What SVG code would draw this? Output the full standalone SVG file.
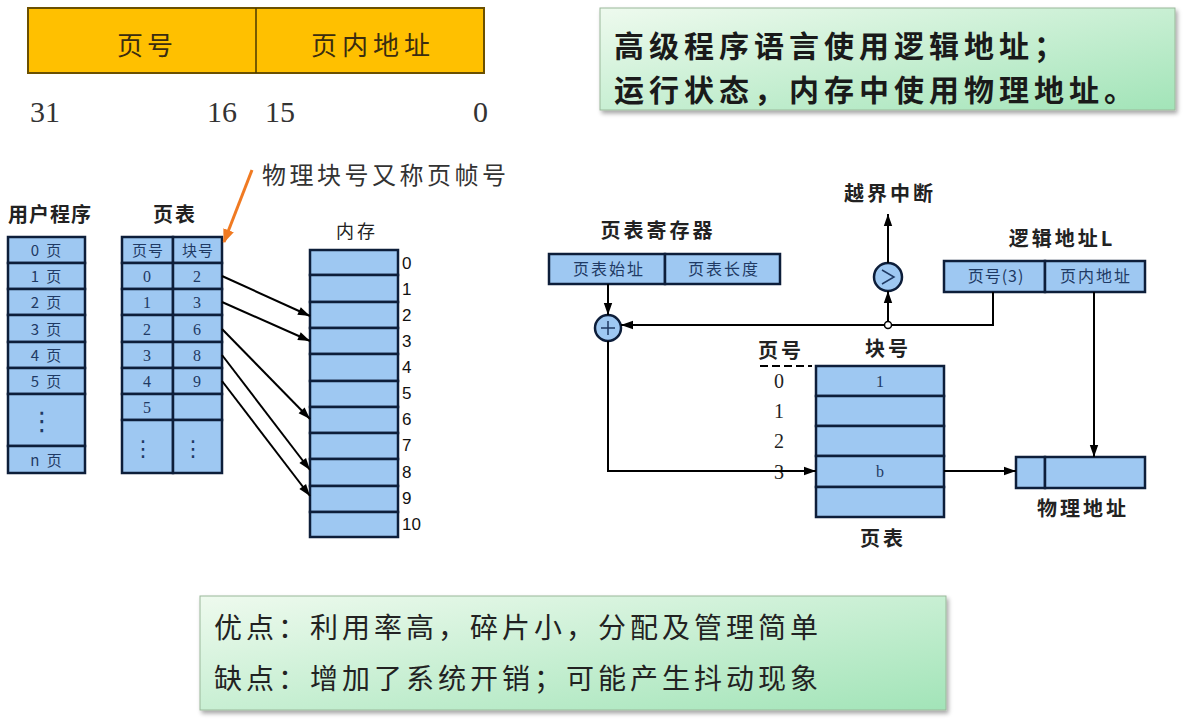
<svg xmlns="http://www.w3.org/2000/svg" width="1188" height="722" viewBox="0 0 1188 722">
<defs>
<linearGradient id="g" x1="0" y1="0" x2="1" y2="1">
<stop offset="0" stop-color="#eefaee"/>
<stop offset="1" stop-color="#a2e4b8"/>
</linearGradient>
<filter id="sh" x="-5%" y="-10%" width="110%" height="130%">
<feDropShadow dx="2" dy="3" stdDeviation="2" flood-color="#000" flood-opacity="0.35"/>
</filter>
<marker id="ab" viewBox="0 0 10 10" refX="10" refY="5" markerWidth="18" markerHeight="12" orient="auto" markerUnits="userSpaceOnUse">
<path d="M0,1.5 L10,5 L0,8.5 z" fill="#000"/>
</marker>
<marker id="ao" viewBox="0 0 10 10" refX="9" refY="5" markerWidth="14" markerHeight="14" orient="auto" markerUnits="userSpaceOnUse">
<path d="M0,1 L10,5 L0,9 z" fill="#f07a22"/>
</marker>
</defs>
<style>
.cell{fill:#9ec8f2;stroke:#0d1e3a;stroke-width:2.5}
.ct{font-family:"Noto Sans CJK SC",sans-serif;font-size:15px;fill:#1f3a64;text-anchor:middle;letter-spacing:2px}
.cs{font-family:"Liberation Serif",serif;font-size:16px;fill:#1f3a64;text-anchor:middle}
.dt{font-family:"DejaVu Sans",sans-serif;font-size:22px;fill:#1f3a64;text-anchor:middle}
.hd{font-family:"Noto Sans CJK SC",sans-serif;font-size:20px;font-weight:bold;fill:#222;text-anchor:middle;letter-spacing:3px}
.num{font-family:"Liberation Sans",sans-serif;font-size:17px;fill:#111}
.ser{font-family:"Liberation Serif",serif;font-size:20px;fill:#222;text-anchor:middle}
.ln{fill:none;stroke:#000;stroke-width:2}
.gb{fill:url(#g);stroke:#9ab89a;stroke-width:1;filter:url(#sh)}
</style>
<rect width="1188" height="722" fill="#fff"/>

<g id="format">
<rect x="28" y="8" width="456" height="65" fill="#ffc000" stroke="#6b5000" stroke-width="2"/>
<line x1="256" y1="8" x2="256" y2="73" stroke="#4a3a00" stroke-width="1.5"/>
<text x="147" y="55" font-family="Noto Sans CJK SC,sans-serif" font-size="26" letter-spacing="4" fill="#3a2c10" text-anchor="middle">页号</text>
<text x="373" y="55" font-family="Noto Sans CJK SC,sans-serif" font-size="26" letter-spacing="5" fill="#3a2c10" text-anchor="middle">页内地址</text>
<text x="30" y="122" font-family="Liberation Serif,serif" font-size="30" fill="#333">31</text>
<text x="237" y="122" font-family="Liberation Serif,serif" font-size="30" fill="#333" text-anchor="end">16</text>
<text x="265" y="122" font-family="Liberation Serif,serif" font-size="30" fill="#333">15</text>
<text x="488" y="122" font-family="Liberation Serif,serif" font-size="30" fill="#333" text-anchor="end">0</text>
</g>

<g id="note-top">
<rect x="600" y="8" width="575" height="102" class="gb"/>
<text x="614" y="57" font-family="Noto Sans CJK SC,sans-serif" font-size="30" letter-spacing="5" font-weight="bold" fill="#1a1a1a">高级程序语言使用逻辑地址；</text>
<text x="614" y="101" font-family="Noto Sans CJK SC,sans-serif" font-size="30" letter-spacing="5" font-weight="bold" fill="#1a1a1a">运行状态，内存中使用物理地址。</text>
</g>

<g id="user-program">
<text x="50" y="222" class="hd" style="letter-spacing:1px">用户程序</text>
<rect x="8" y="237" width="77" height="26" class="cell"/>
<rect x="8" y="263" width="77" height="26" class="cell"/>
<rect x="8" y="289" width="77" height="26" class="cell"/>
<rect x="8" y="315" width="77" height="27" class="cell"/>
<rect x="8" y="342" width="77" height="26" class="cell"/>
<rect x="8" y="368" width="77" height="26" class="cell"/>
<rect x="8" y="394" width="77" height="52" class="cell"/>
<rect x="8" y="446" width="77" height="27" class="cell"/>
<text x="47" y="256" class="ct">0 页</text>
<text x="47" y="282" class="ct">1 页</text>
<text x="47" y="308" class="ct">2 页</text>
<text x="47" y="335" class="ct">3 页</text>
<text x="47" y="361" class="ct">4 页</text>
<text x="47" y="387" class="ct">5 页</text>
<text x="42" y="430" class="dt" style="font-size:26px">⋮</text>
<text x="47" y="466" class="ct">n 页</text>
</g>

<g id="page-table-left">
<text x="175" y="222" class="hd" style="letter-spacing:2px">页表</text>
<rect x="122" y="237" width="51" height="26" class="cell"/>
<rect x="173" y="237" width="49" height="26" class="cell"/>
<rect x="122" y="263" width="51" height="26" class="cell"/>
<rect x="173" y="263" width="49" height="26" class="cell"/>
<rect x="122" y="289" width="51" height="26" class="cell"/>
<rect x="173" y="289" width="49" height="26" class="cell"/>
<rect x="122" y="315" width="51" height="27" class="cell"/>
<rect x="173" y="315" width="49" height="27" class="cell"/>
<rect x="122" y="342" width="51" height="26" class="cell"/>
<rect x="173" y="342" width="49" height="26" class="cell"/>
<rect x="122" y="368" width="51" height="26" class="cell"/>
<rect x="173" y="368" width="49" height="26" class="cell"/>
<rect x="122" y="394" width="51" height="26" class="cell"/>
<rect x="173" y="394" width="49" height="26" class="cell"/>
<rect x="122" y="420" width="51" height="53" class="cell"/>
<rect x="173" y="420" width="49" height="53" class="cell"/>
<text x="148" y="256" class="ct" style="letter-spacing:1px">页号</text>
<text x="198" y="256" class="ct" style="letter-spacing:1px">块号</text>
<text x="147" y="282" class="cs">0</text><text x="197" y="282" class="cs">2</text>
<text x="147" y="308" class="cs">1</text><text x="197" y="308" class="cs">3</text>
<text x="147" y="335" class="cs">2</text><text x="197" y="335" class="cs">6</text>
<text x="147" y="361" class="cs">3</text><text x="197" y="361" class="cs">8</text>
<text x="147" y="387" class="cs">4</text><text x="197" y="387" class="cs">9</text>
<text x="147" y="413" class="cs">5</text>
<text x="143" y="456" class="dt">⋮</text>
<text x="193" y="456" class="dt">⋮</text>
</g>

<g id="frame-note">
<text x="262" y="184" font-family="Noto Sans CJK SC,sans-serif" font-size="24" letter-spacing="3.5" fill="#333">物理块号又称页帧号</text>
</g>

<g id="memory">
<text x="357" y="238" class="hd" style="font-weight:normal;font-size:18px;letter-spacing:3px">内存</text>
<rect x="310" y="250" width="88" height="25" class="cell"/>
<rect x="310" y="275" width="88" height="27" class="cell"/>
<rect x="310" y="302" width="88" height="26" class="cell"/>
<rect x="310" y="328" width="88" height="26" class="cell"/>
<rect x="310" y="354" width="88" height="27" class="cell"/>
<rect x="310" y="381" width="88" height="26" class="cell"/>
<rect x="310" y="407" width="88" height="26" class="cell"/>
<rect x="310" y="433" width="88" height="26" class="cell"/>
<rect x="310" y="459" width="88" height="27" class="cell"/>
<rect x="310" y="486" width="88" height="26" class="cell"/>
<rect x="310" y="512" width="88" height="25" class="cell"/>
<text x="402" y="269" class="num">0</text>
<text x="402" y="295" class="num">1</text>
<text x="402" y="321" class="num">2</text>
<text x="402" y="347" class="num">3</text>
<text x="402" y="373" class="num">4</text>
<text x="402" y="399" class="num">5</text>
<text x="402" y="425" class="num">6</text>
<text x="402" y="451" class="num">7</text>
<text x="402" y="478" class="num">8</text>
<text x="402" y="504" class="num">9</text>
<text x="402" y="530" class="num">10</text>
</g>

<g id="page-register">
<text x="658" y="238" class="hd">页表寄存器</text>
<rect x="549" y="254" width="116" height="30" class="cell"/>
<rect x="665" y="254" width="115" height="30" class="cell"/>
<text x="609" y="275" class="ct" style="font-size:16px">页表始址</text>
<text x="724" y="275" class="ct" style="font-size:16px">页表长度</text>
</g>

<g id="adder">
<circle cx="608" cy="328" r="13" class="cell"/>
<path d="M601,328 H615 M608,321 V335" stroke="#1f3a64" stroke-width="1.5"/>
</g>

<g id="comparator">
<circle cx="888" cy="277" r="14" class="cell"/>
<path d="M882,270 L894,277 L882,284" fill="none" stroke="#1f3a64" stroke-width="1.5"/>
</g>

<g id="overflow">
<text x="890" y="201" class="hd">越界中断</text>
</g>

<g id="logical-address">
<text x="1062" y="246" class="hd">逻辑地址L</text>
<rect x="944" y="261" width="101" height="31" class="cell"/>
<rect x="1045" y="261" width="100" height="31" class="cell"/>
<text x="996" y="282" class="ct" style="font-size:16px;letter-spacing:1px">页号(3)</text>
<text x="1096" y="282" class="ct" style="font-size:16px">页内地址</text>
</g>

<g id="page-table-right">
<text x="781" y="358" class="hd">页号</text>
<text x="888" y="356" class="hd">块号</text>
<line x1="760" y1="366" x2="812" y2="366" stroke="#000" stroke-width="2" stroke-dasharray="8,4"/>
<rect x="816" y="366" width="128" height="30" class="cell"/>
<rect x="816" y="396" width="128" height="30" class="cell"/>
<rect x="816" y="426" width="128" height="30" class="cell"/>
<rect x="816" y="456" width="128" height="31" class="cell"/>
<rect x="816" y="487" width="128" height="30" class="cell"/>
<text x="880" y="387" class="cs">1</text>
<text x="880" y="477" class="cs">b</text>
<text x="779" y="388" class="ser">0</text>
<text x="779" y="418" class="ser">1</text>
<text x="779" y="448" class="ser">2</text>
<text x="779" y="479" class="ser">3</text>
<text x="883" y="546" class="hd">页表</text>
</g>

<g id="physical-address">
<rect x="1016" y="457" width="29" height="31" class="cell"/>
<rect x="1045" y="457" width="100" height="31" class="cell"/>
<text x="1083" y="516" class="hd">物理地址</text>
</g>

<g id="connectors">
<line x1="222" y1="276" x2="310" y2="316" class="ln" marker-end="url(#ab)"/>
<line x1="222" y1="302" x2="310" y2="341" class="ln" marker-end="url(#ab)"/>
<line x1="222" y1="329" x2="310" y2="419" class="ln" marker-end="url(#ab)"/>
<line x1="222" y1="355" x2="310" y2="470" class="ln" marker-end="url(#ab)"/>
<line x1="222" y1="381" x2="310" y2="496" class="ln" marker-end="url(#ab)"/>
<line x1="252" y1="170" x2="224" y2="242" stroke="#f07a22" stroke-width="3" marker-end="url(#ao)"/>
<line x1="608" y1="284" x2="608" y2="315" class="ln" marker-end="url(#ab)"/>
<path d="M993,292 V325 H621" class="ln" marker-end="url(#ab)"/>
<line x1="888" y1="325" x2="888" y2="291" class="ln" marker-end="url(#ab)"/>
<line x1="888" y1="263" x2="888" y2="214" class="ln" marker-end="url(#ab)"/>
<circle cx="888" cy="325" r="3.5" fill="#fff" stroke="#000" stroke-width="1.5"/>
<path d="M608,341 V471 H816" class="ln" marker-end="url(#ab)"/>
<line x1="944" y1="471" x2="1016" y2="471" class="ln" marker-end="url(#ab)"/>
<line x1="1094" y1="292" x2="1094" y2="457" class="ln" marker-end="url(#ab)"/>
</g>

<g id="note-bottom">
<rect x="200" y="596" width="746" height="114" class="gb"/>
<text x="214" y="638" font-family="Noto Sans CJK SC,sans-serif" font-size="28" letter-spacing="4" fill="#222">优点：利用率高，碎片小，分配及管理简单</text>
<text x="214" y="689" font-family="Noto Sans CJK SC,sans-serif" font-size="28" letter-spacing="4" fill="#222">缺点：增加了系统开销；可能产生抖动现象</text>
</g>
</svg>
